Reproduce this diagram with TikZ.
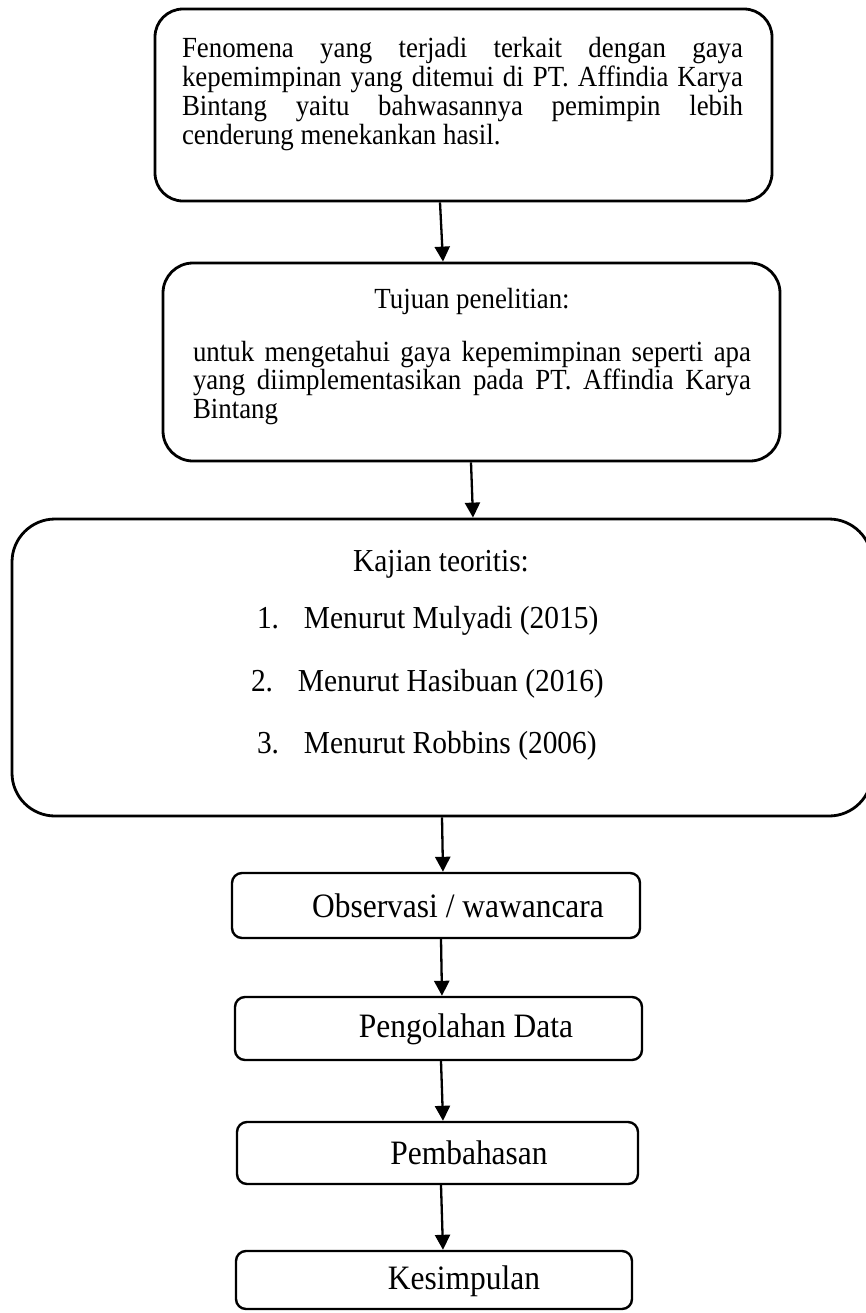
\documentclass[tikz,border=0pt]{standalone}
\usepackage{fontspec}
\setmainfont[FakeStretch=0.92]{Liberation Serif}
\usetikzlibrary{arrows.meta}
\newcommand{\jl}[1]{\makebox[\linewidth][s]{#1}}
\begin{document}
\begin{tikzpicture}[x=0.5pt,y=-0.5pt,
  bigbox/.style={draw, line width=1.4pt, inner sep=0pt, rounded corners=#1},
  smallbox/.style={draw, line width=1.2pt, inner sep=0pt, rounded corners=5pt,
    minimum width=#1},
  txt/.style={inner sep=0pt, outer sep=0pt},
  arr/.style={line width=1.15pt, -{Triangle[width=7.5pt,length=7.5pt]}},
  parfont/.style={font=\fontsize{14.6pt}{14.5pt}\selectfont},
  kfont/.style={font=\fontsize{16pt}{16pt}\selectfont},
  lfont/.style={font=\fontsize{17.1pt}{17pt}\selectfont}
]
\useasboundingbox (0,0) rectangle (866,1313);
\clip (0,0) rectangle (866,1313);

% boxes
\node[bigbox=14pt, minimum width=308.5pt, minimum height=96pt] (b1) at (463.5,105) {};
\node[bigbox=15pt, minimum width=308.5pt, minimum height=99pt] (b2) at (471.5,362) {};
\node[bigbox=21.5pt, minimum width=430pt, minimum height=148.5pt] (b3) at (442,667.5) {};
\node[smallbox=204pt, minimum height=32.5pt] (b4) at (436,905.5) {};
\node[smallbox=203.5pt, minimum height=31.5pt] (b5) at (438.5,1028.5) {};
\node[smallbox=200.5pt, minimum height=31pt] (b6) at (437.5,1153) {};
\node[smallbox=198pt, minimum height=29pt] (b7) at (434,1280) {};

% box 1 text
\node[txt, anchor=base west] (t1) at (182,57) {\parbox[t]{280.5pt}{\fontsize{14.6pt}{14.5pt}\selectfont
\jl{Fenomena yang terjadi terkait dengan gaya}\\
\jl{kepemimpinan yang ditemui di PT. Affindia Karya}\\
\jl{Bintang yaitu bahwasannya pemimpin lebih}\\
cenderung menekankan hasil.}};

% box 2 text
\node[txt, parfont] (t2h) at (472,301) {Tujuan penelitian:};
\node[txt, anchor=base west] (t2) at (193,361) {\parbox[t]{279pt}{\fontsize{14.6pt}{14.25pt}\selectfont
\jl{untuk mengetahui gaya kepemimpinan seperti apa}\\
\jl{yang diimplementasikan pada PT. Affindia Karya}\\
Bintang}};

% box 3 text
\node[txt, kfont] (t3h) at (441,564) {Kajian teoritis:};
\node[txt, kfont, anchor=west] (t3a) at (257,621) {\makebox[23.5pt][l]{1.}Menurut Mulyadi (2015)};
\node[txt, kfont, anchor=west] (t3b) at (251,684) {\makebox[23.5pt][l]{2.}Menurut Hasibuan (2016)};
\node[txt, kfont, anchor=west] (t3c) at (257,746) {\makebox[23.5pt][l]{3.}Menurut Robbins (2006)};

% lower texts
\node[txt, lfont] (t4) at (458,906) {Observasi / wawancara};
\node[txt, lfont] (t5) at (466,1029) {Pengolahan Data};
\node[txt, lfont] (t6) at (469,1153) {Pembahasan};
\node[txt, lfont] (t7) at (464,1281) {Kesimpulan};

% arrows
\draw[arr] ([xshift=-11.75pt]b1.south) -- ([xshift=-14.25pt]b2.north);
\draw[arr] ([xshift=-0.25pt]b2.south) -- ([xshift=15.5pt]b3.north);
\draw[arr] (b3.south) -- ([xshift=3.5pt]b4.north);
\draw[arr] ([xshift=2.5pt]b4.south) -- ([xshift=1.75pt]b5.north);
\draw[arr] ([xshift=1.25pt]b5.south) -- ([xshift=2.75pt]b6.north);
\draw[arr] ([xshift=1.75pt]b6.south) -- ([xshift=4.5pt]b7.north);
\end{tikzpicture}
\end{document}
